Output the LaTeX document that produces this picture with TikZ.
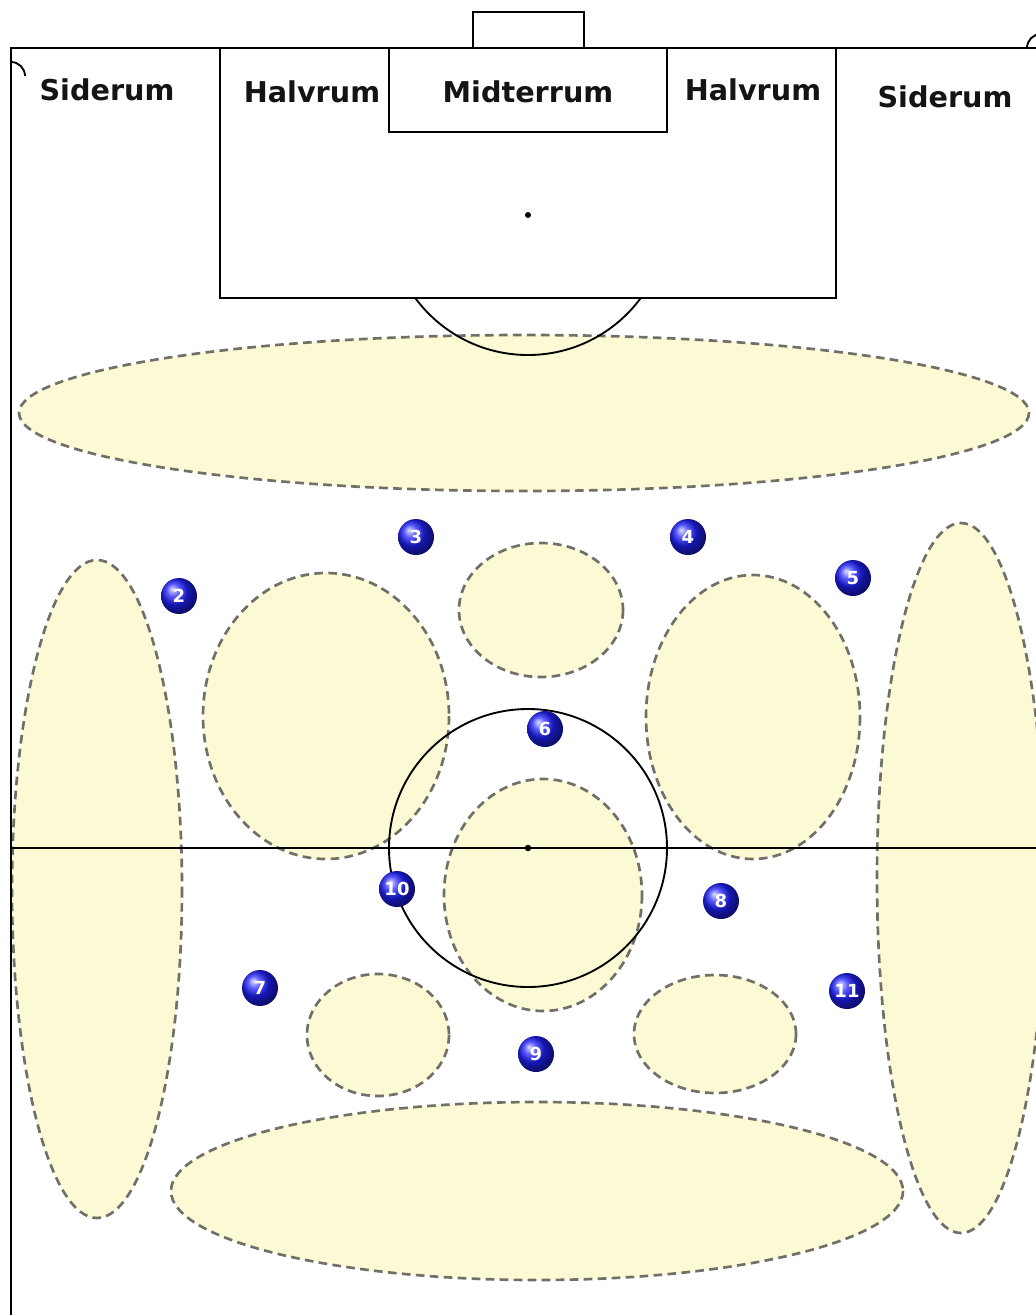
\documentclass[tikz,border=0pt]{standalone}
\usepackage{fontspec}
\setmainfont{DejaVu Sans}
\usetikzlibrary{shapes.geometric}
\definecolor{zonefill}{HTML}{FCFAD4}
\definecolor{zoneline}{HTML}{707068}
\definecolor{playerblue}{HTML}{2020FF}
\tikzset{
  zone/.style={fill=zonefill, draw=zoneline, line width=2pt, dash pattern=on 6.5pt off 4pt},
  fieldline/.style={draw=black, line width=1.4pt},
  player/.style={circle, minimum size=27pt, inner sep=0pt, ball color=playerblue, text=white, font=\bfseries\fontsize{13.5}{13.5}\selectfont},
  zonelabel/.style={font=\bfseries\fontsize{21.5}{21.5}\selectfont, text=black!92}
}
\begin{document}
\begin{tikzpicture}[x=0.75pt, y=-0.75pt]
\useasboundingbox (0,0) rectangle (1036,1315);
\fill[white] (0,0) rectangle (1036,1315);
\clip (0,0) rectangle (1036,1315);
% zones
\draw[zone] (524,413) ellipse [x radius=505, y radius=78];
\draw[zone] (97,889) ellipse [x radius=85, y radius=329];
\draw[zone] (961,878) ellipse [x radius=84, y radius=355];
\draw[zone] (326,716) ellipse [x radius=123, y radius=143];
\draw[zone] (541,610) ellipse [x radius=82, y radius=67];
\draw[zone] (753,717) ellipse [x radius=107, y radius=142];
\draw[zone] (543,895) ellipse [x radius=99, y radius=116];
\draw[zone] (378,1035) ellipse [x radius=71, y radius=61];
\draw[zone] (715,1034) ellipse [x radius=81, y radius=59];
\draw[zone] (537,1191) ellipse [x radius=366, y radius=89];
% field
\coordinate (tl) at (11,48);
\coordinate (tr) at (1041,48);
\draw[fieldline] (11,1330) -- (tl) -- (tr) -- (1041,1330);
\draw[fieldline] (11,62) arc[start angle=-90, end angle=0, radius=14];
\draw[fieldline] (1027,48) arc[start angle=180, end angle=270, radius=14];
\draw[fieldline] (473,48) -- (473,12) -- (584,12) -- (584,48);
\draw[fieldline] (220,48) -- (220,298) -- (836,298) -- (836,48);
\draw[fieldline] (389,48) -- (389,132) -- (667,132) -- (667,48);
\fill (528,215) circle [radius=3];
\begin{scope}
\clip (200,298) rectangle (860,400);
\draw[fieldline] (528,215) circle [radius=140];
\end{scope}
\draw[fieldline] (11,848) -- (1041,848);
\draw[fieldline] (528,848) circle [radius=139];
\fill (528,848) circle [radius=3.2];
% labels
\node[zonelabel] (s1) at (107,90) {Siderum};
\node[zonelabel] (h1) at (312,92) {Halvrum};
\node[zonelabel] (m) at (528,92) {Midterrum};
\node[zonelabel] (h2) at (753,90) {Halvrum};
\node[zonelabel] (s2) at (945,97) {Siderum};
% players
\node[player] (p2) at (179,596) {2};
\node[player] (p3) at (416,537) {3};
\node[player] (p4) at (688,537) {4};
\node[player] (p5) at (853,578) {5};
\node[player] (p6) at (545,729) {6};
\node[player] (p10) at (397,889) {10};
\node[player] (p8) at (721,901) {8};
\node[player] (p7) at (260,988) {7};
\node[player] (p11) at (847,991) {11};
\node[player] (p9) at (536,1054) {9};
\end{tikzpicture}
\end{document}
